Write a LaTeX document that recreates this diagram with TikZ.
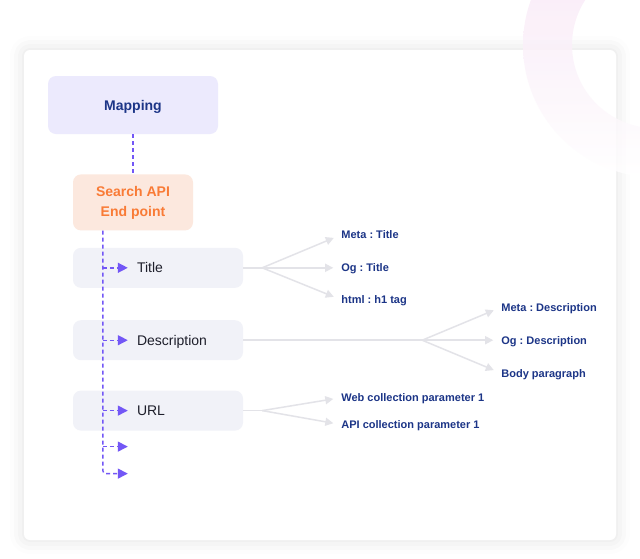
\documentclass[tikz,border=0pt]{standalone}
\usepackage{fontspec}
\setmainfont{Liberation Sans}
\usetikzlibrary{positioning, arrows.meta, shadows.blur}
\definecolor{mapfill}{HTML}{ECEAFD}
\definecolor{navy}{HTML}{1C3587}
\definecolor{apifill}{HTML}{FCE8DE}
\definecolor{apiink}{HTML}{F97B36}
\definecolor{itemfill}{HTML}{F1F2F8}
\definecolor{itemink}{HTML}{1E1F2B}
\definecolor{flowcolor}{HTML}{7357F6}
\definecolor{fancolor}{HTML}{E3E3E8}
\definecolor{ringtop}{HTML}{F6E0F3}
\definecolor{ringmid}{HTML}{FAEEF8}

\begin{document}
\frenchspacing
\begin{tikzpicture}[
    x=1pt, y=-1pt,
    >=Stealth,
    card/.style={fill=white, rounded corners=6pt,
        blur shadow={shadow xshift=0pt, shadow yshift=0pt, shadow blur radius=14pt, shadow opacity=12}},
    box/.style={rounded corners=8pt, inner sep=0pt, minimum width=170pt, minimum height=40pt},
    head/.style={box, fill=mapfill, minimum height=58pt, text=navy, text height=10pt, text depth=0pt,
        font=\bfseries\fontsize{14}{20}\selectfont},
    api/.style={box, fill=apifill, minimum width=120pt, minimum height=56pt, align=center,
        text=apiink, font=\bfseries\fontsize{14}{20}\selectfont},
    item/.style={box, fill=itemfill},
    itemlabel/.style={inner sep=0pt, anchor=west, text height=10pt, text depth=0pt,
        text=itemink, font=\fontsize{14}{17}\selectfont},
    leaf/.style={inner sep=0pt, anchor=west, text height=8pt, text depth=0pt,
        text=navy, font=\bfseries\fontsize{11}{13}\selectfont},
    flow/.style={draw=flowcolor, line width=1.4pt, dash pattern=on 4pt off 3pt},
    flowarrow/.style={flow, -{Triangle[length=10pt, width=10pt]}, shorten >=9pt},
    fan/.style={draw=fancolor, line width=1.5pt},
    fanarrow/.style={fan, -{Triangle[length=8pt, width=8pt]}, shorten >=8pt},
]
\useasboundingbox (0,0) rectangle (640,558);

% card and the ring behind the corner
\path[card] (24,50) rectangle (616,540);
\shade[top color=ringtop, middle color=ringmid, bottom color=white, even odd rule, opacity=0.8]
    (655,45) circle[radius=132pt] (655,45) circle[radius=83pt];

% === MAIN COLUMN ===
\node[head] (mapping) at (133,105) {Mapping};
\node[api, below=40pt of mapping] (api) {Search API\\End point};

\node[item, below=17pt of api.south west, anchor=north west] (title) {};
\node[item, below=32pt of title] (desc) {};
\node[item, below=30pt of desc] (url) {};

\node[itemlabel] (title-txt) at ([xshift=64pt]title.west) {Title};
\node[itemlabel] (desc-txt) at ([xshift=64pt]desc.west) {Description};
\node[itemlabel] (url-txt) at ([xshift=64pt]url.west) {URL};

\coordinate (trunk) at ([xshift=30pt]api.south west);
\coordinate (more1) at ([yshift=-36pt]url-txt.west);
\coordinate (more2) at ([yshift=-63pt]url-txt.west);

\draw[flow] (mapping) -- (api);
\draw[flowarrow, rounded corners=3pt] (trunk) -- (trunk |- more2) -- (more2);
\draw[flowarrow] (trunk |- title-txt.west) -- (title-txt.west);
\draw[flowarrow] (trunk |- desc-txt.west) -- (desc-txt.west);
\draw[flowarrow] (trunk |- url-txt.west) -- (url-txt.west);
\draw[flowarrow] (trunk |- more1) -- (more1);

% === TITLE ===
\coordinate[right=19pt of title.east] (title-fork);
\node[leaf] (meta-title) at ([xshift=98pt, yshift=33pt]title.east) {Meta : Title};
\node[leaf] (og-title) at ([xshift=98pt]title.east) {Og : Title};
\node[leaf] (h1-tag) at ([xshift=98pt, yshift=-32pt]title.east) {html : h1 tag};

\draw[fan] (title) -- (title-fork);
\draw[fanarrow] (title-fork) -- (meta-title.west);
\draw[fanarrow] (title-fork) -- (og-title.west);
\draw[fanarrow] (title-fork) -- (h1-tag.west);

% === DESCRIPTION ===
\coordinate[right=179pt of desc.east] (desc-fork);
\node[leaf] (meta-desc) at ([xshift=258pt, yshift=33pt]desc.east) {Meta : Description};
\node[leaf] (og-desc) at ([xshift=258pt]desc.east) {Og : Description};
\node[leaf] (body-par) at ([xshift=258pt, yshift=-33pt]desc.east) {Body paragraph};

\draw[fan] (desc) -- (desc-fork);
\draw[fanarrow] (desc-fork) -- (meta-desc.west);
\draw[fanarrow] (desc-fork) -- (og-desc.west);
\draw[fanarrow] (desc-fork) -- (body-par.west);

% === URL ===
\coordinate[right=19pt of url.east] (url-fork);
\node[leaf] (web-param) at ([xshift=98pt, yshift=13pt]url.east) {Web collection parameter 1};
\node[leaf] (api-param) at ([xshift=98pt, yshift=-14pt]url.east) {API collection parameter 1};

\draw[fan] (url) -- (url-fork);
\draw[fanarrow] (url-fork) -- (web-param.west);
\draw[fanarrow] (url-fork) -- (api-param.west);

\end{tikzpicture}
\end{document}
